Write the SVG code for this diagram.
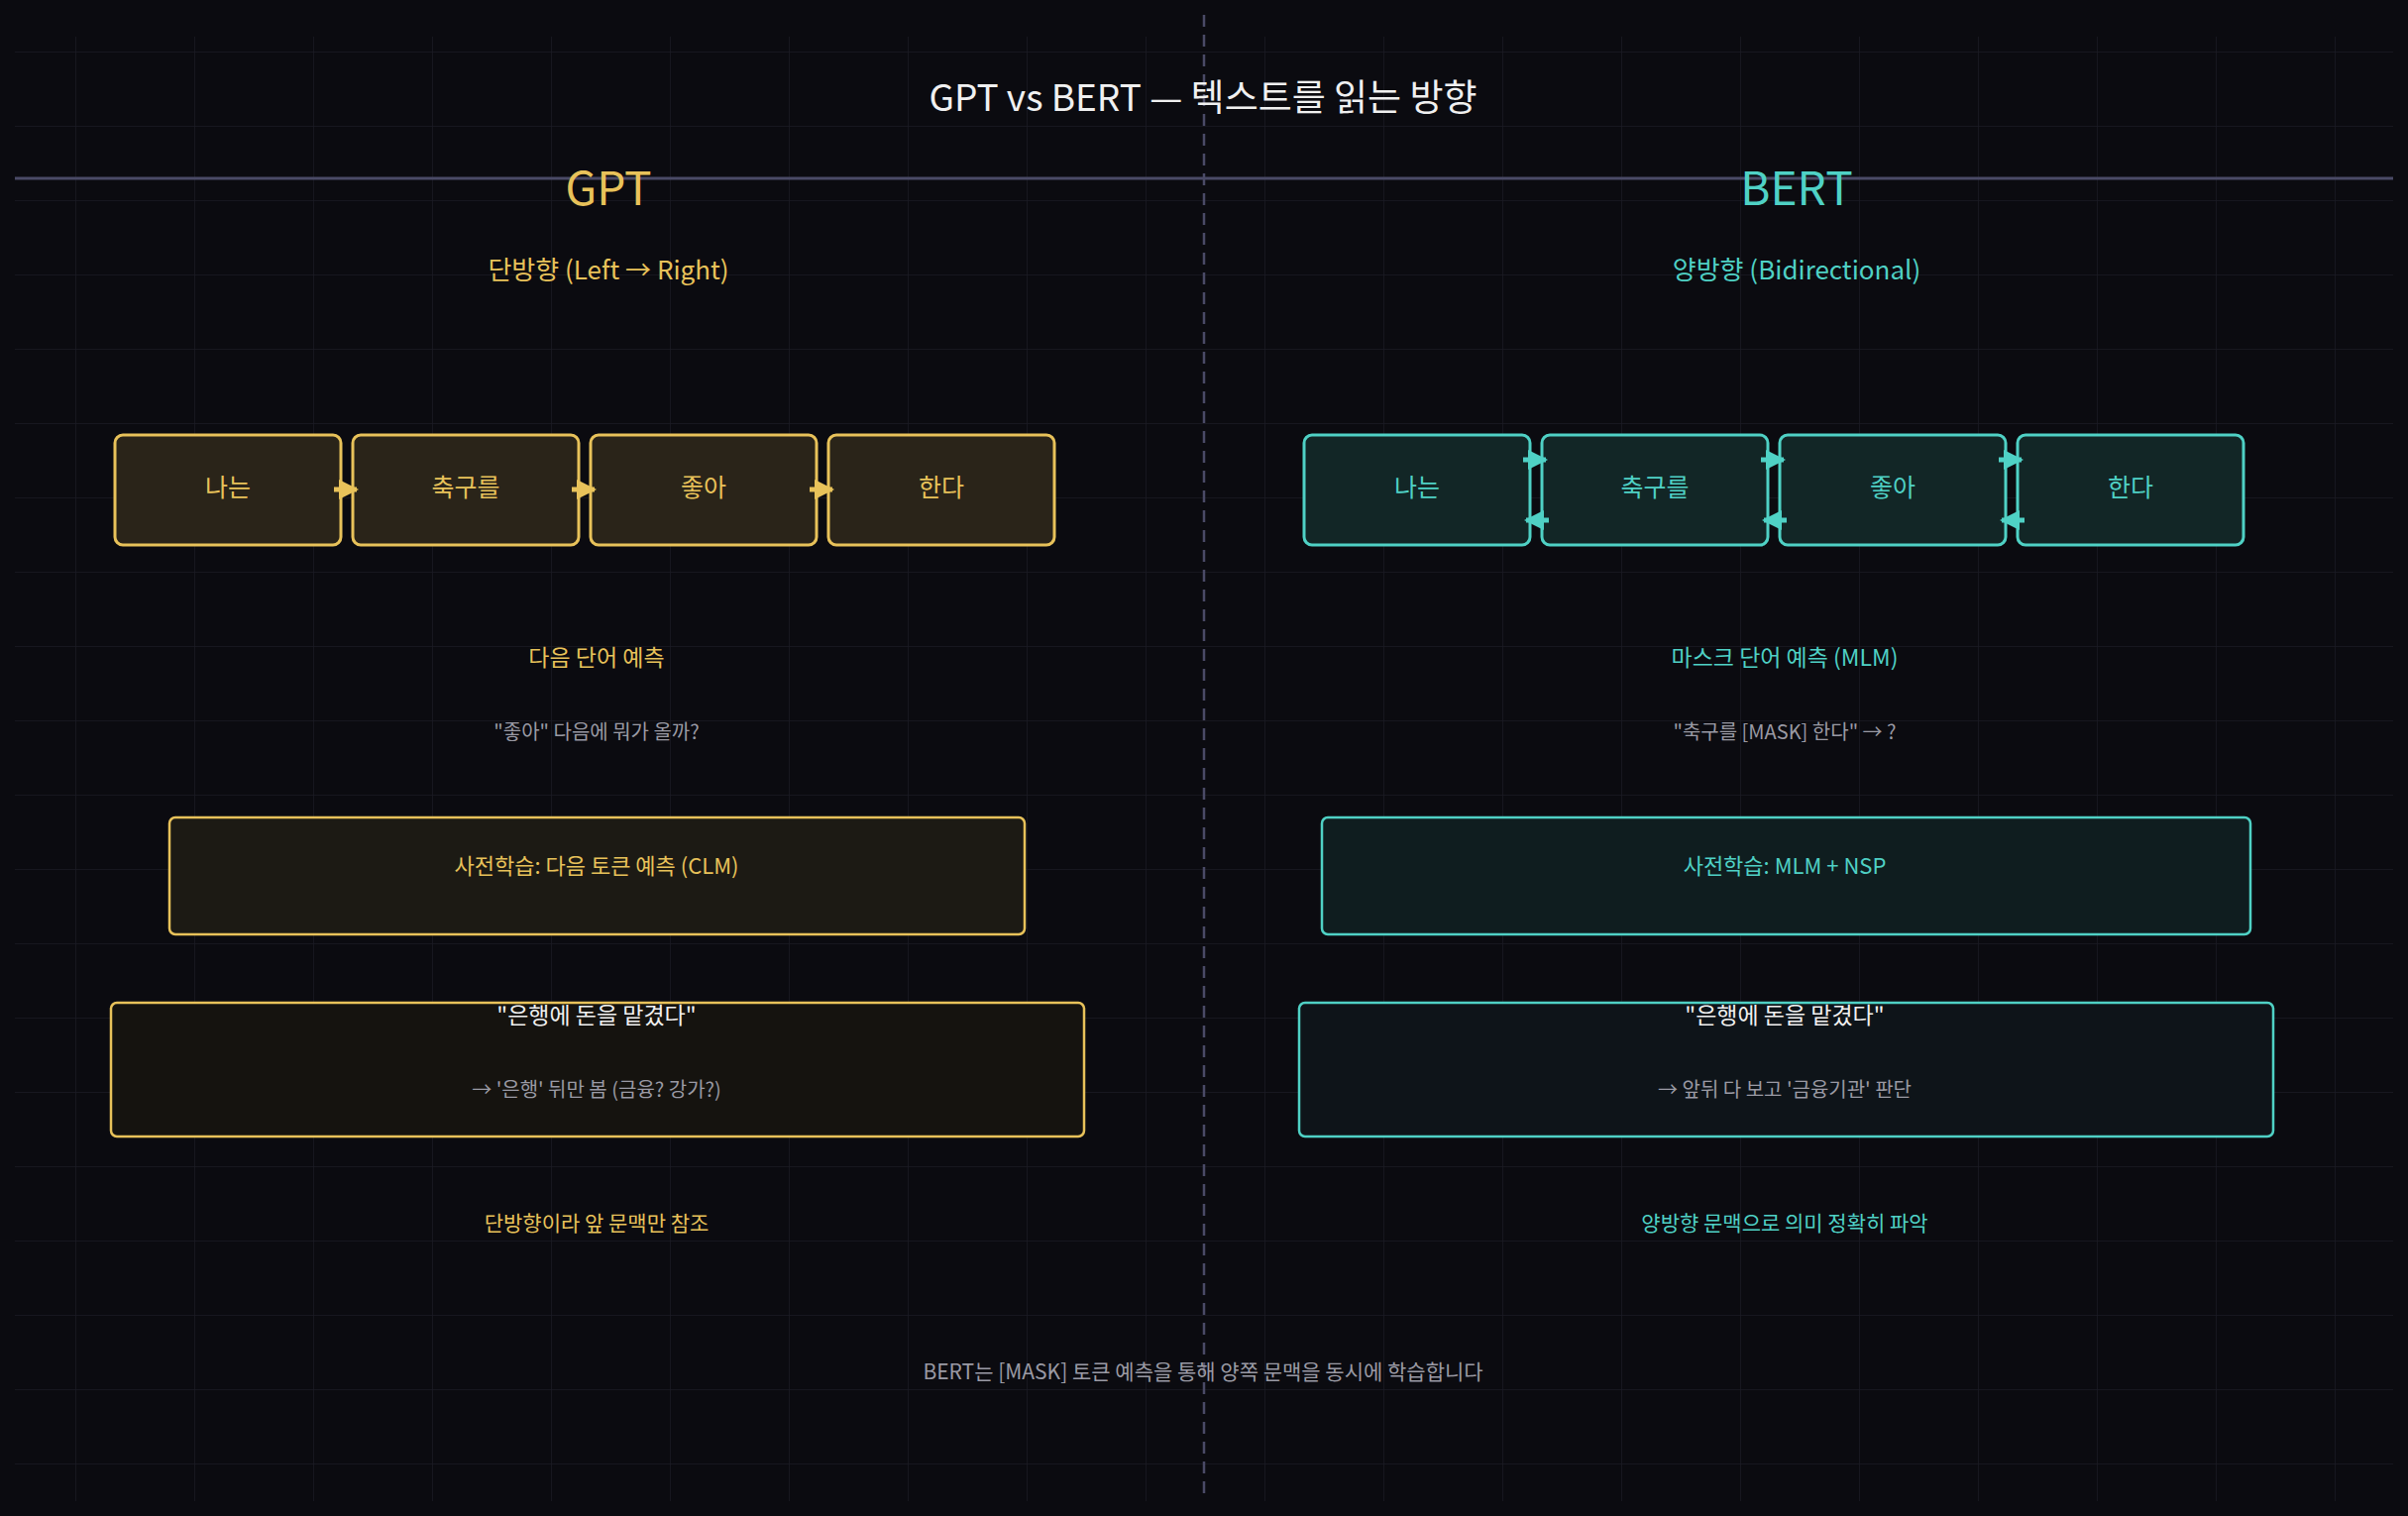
<svg xmlns="http://www.w3.org/2000/svg" width="2430" height="1530" viewBox="0 0 2430 1530">
<defs>
<pattern id="grid" x="76" y="52" width="120" height="75" patternUnits="userSpaceOnUse">
<path d="M0 0H120M0 0V75" stroke="#1a1a24" stroke-width="1.5" fill="none"/>
</pattern>
<marker id="ag" viewBox="0 0 10 10" refX="9" refY="5" markerWidth="4" markerHeight="4" orient="auto"><path d="M0 0L10 5L0 10z" fill="#e8c25a"/></marker>
<marker id="at" viewBox="0 0 10 10" refX="9" refY="5" markerWidth="4" markerHeight="4" orient="auto"><path d="M0 0L10 5L0 10z" fill="#4fd1c5"/></marker>
</defs>
<style>
text{font-family:"Noto Sans CJK KR","Noto Sans",sans-serif;text-anchor:middle;dominant-baseline:middle}
.g{fill:#e8c25a}.t{fill:#4fd1c5}.w{fill:#f0f0f0}.m{fill:#9a9aa4}
.tokg{fill:#2a2419;stroke:#e8c25a;stroke-width:3}
.tokt{fill:#122626;stroke:#4fd1c5;stroke-width:3}
.cg{stroke:#e8c25a;stroke-width:5;fill:none;marker-end:url(#ag)}
.ct{stroke:#4fd1c5;stroke-width:5;fill:none;marker-end:url(#at)}
</style>
<rect width="2430" height="1530" fill="#0b0b10"/>
<rect x="15" y="37" width="2400" height="1478" fill="url(#grid)"/>
<line x1="15" y1="180" x2="2415" y2="180" stroke="#4a4a66" stroke-width="3"/>
<line x1="1215" y1="15" x2="1215" y2="1511" stroke="#4a4a66" stroke-width="2.5" stroke-dasharray="12 8"/>
<text x="1214" y="102" class="w" font-size="37">GPT vs BERT — 텍스트를 읽는 방향</text>

<g id="gpt-side">
<text x="614" y="195" class="g" font-size="46">GPT</text>
<text x="614" y="275" class="g" font-size="26">단방향 (Left → Right)</text>
</g>
<g id="gpt-tok1"><rect x="116" y="439" width="228" height="111" rx="8" class="tokg"/><text x="230" y="494" class="g" font-size="25">나는</text></g>
<g id="gpt-tok2"><rect x="356" y="439" width="228" height="111" rx="8" class="tokg"/><text x="470" y="494" class="g" font-size="25">축구를</text></g>
<g id="gpt-tok3"><rect x="596" y="439" width="228" height="111" rx="8" class="tokg"/><text x="710" y="494" class="g" font-size="25">좋아</text></g>
<g id="gpt-tok4"><rect x="836" y="439" width="228" height="111" rx="8" class="tokg"/><text x="950" y="494" class="g" font-size="25">한다</text></g>
<g id="gpt-task">
<text x="602" y="666" class="g" font-size="23">다음 단어 예측</text>
<text x="602" y="741" class="m" font-size="20">"좋아" 다음에 뭐가 올까?</text>
</g>
<g id="gpt-pre"><rect x="171" y="825" width="863" height="118" rx="6" fill="#1c1a14" stroke="#e8c25a" stroke-width="2.5"/><text x="602" y="876" class="g" font-size="22">사전학습: 다음 토큰 예측 (CLM)</text></g>
<g id="gpt-ex"><rect x="112" y="1012" width="982" height="135" rx="6" fill="#15130f" stroke="#e8c25a" stroke-width="2.5"/><text x="602" y="1027" class="w" font-size="23">"은행에 돈을 맡겼다"</text><text x="602" y="1102" class="m" font-size="20">→ '은행' 뒤만 봄 (금융? 강가?)</text></g>
<text x="602" y="1236" class="g" font-size="21">단방향이라 앞 문맥만 참조</text>

<g id="bert-side">
<text x="1813" y="195" class="t" font-size="46">BERT</text>
<text x="1813" y="275" class="t" font-size="26">양방향 (Bidirectional)</text>
</g>
<g id="bert-tok1"><rect x="1316" y="439" width="228" height="111" rx="8" class="tokt"/><text x="1430" y="494" class="t" font-size="25">나는</text></g>
<g id="bert-tok2"><rect x="1556" y="439" width="228" height="111" rx="8" class="tokt"/><text x="1670" y="494" class="t" font-size="25">축구를</text></g>
<g id="bert-tok3"><rect x="1796" y="439" width="228" height="111" rx="8" class="tokt"/><text x="1910" y="494" class="t" font-size="25">좋아</text></g>
<g id="bert-tok4"><rect x="2036" y="439" width="228" height="111" rx="8" class="tokt"/><text x="2150" y="494" class="t" font-size="25">한다</text></g>
<g id="bert-task">
<text x="1801" y="666" class="t" font-size="23">마스크 단어 예측 (MLM)</text>
<text x="1801" y="741" class="m" font-size="20">"축구를 [MASK] 한다" → ?</text>
</g>
<g id="bert-pre"><rect x="1334" y="825" width="937" height="118" rx="6" fill="#0f1d1f" stroke="#4fd1c5" stroke-width="2.5"/><text x="1801" y="876" class="t" font-size="22">사전학습: MLM + NSP</text></g>
<g id="bert-ex"><rect x="1311" y="1012" width="983" height="135" rx="6" fill="#0e1419" stroke="#4fd1c5" stroke-width="2.5"/><text x="1801" y="1027" class="w" font-size="23">"은행에 돈을 맡겼다"</text><text x="1801" y="1102" class="m" font-size="20">→ 앞뒤 다 보고 '금융기관' 판단</text></g>
<text x="1801" y="1236" class="t" font-size="21">양방향 문맥으로 의미 정확히 파악</text>

<text x="1214" y="1386" class="m" font-size="21">BERT는 [MASK] 토큰 예측을 통해 양쪽 문맥을 동시에 학습합니다</text>

<g id="connectors">
<line x1="337" y1="494" x2="360" y2="494" class="cg"/>
<line x1="577" y1="494" x2="600" y2="494" class="cg"/>
<line x1="817" y1="494" x2="840" y2="494" class="cg"/>
<line x1="1537" y1="464" x2="1560" y2="464" class="ct"/>
<line x1="1777" y1="464" x2="1800" y2="464" class="ct"/>
<line x1="2017" y1="464" x2="2040" y2="464" class="ct"/>
<line x1="1563" y1="525" x2="1540" y2="525" class="ct"/>
<line x1="1803" y1="525" x2="1780" y2="525" class="ct"/>
<line x1="2043" y1="525" x2="2020" y2="525" class="ct"/>
</g>
</svg>
